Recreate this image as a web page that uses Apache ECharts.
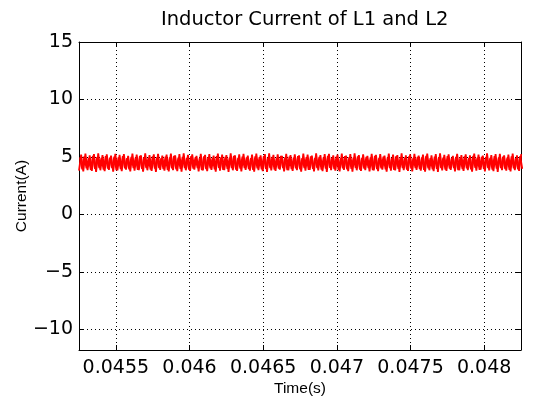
<!DOCTYPE html>
<html>
<head>
<meta charset="utf-8">
<script src="https://cdn.jsdelivr.net/npm/echarts@6/dist/echarts.min.js"></script>
<style>
html,body{margin:0;padding:0;background:#fff;}
#c{width:533px;height:405px;}
</style>
</head>
<body>
<div id="c"></div>
<script>
// ---- data ----
const title = "Inductor Current of L1 and L2";
const xName = "Time(s)";
const yName = "Current(A)";
const xTicks = [0.0455, 0.046, 0.0465, 0.047, 0.0475, 0.048];
const yTicks = [-10, -5, 0, 5, 10, 15];
const xMin = 0.04525, xMax = 0.04825;
const yMin = -11.8, yMax = 15;
// sampling: start time and spacing of the sampled turning points (s)
const tStartL1 = 0.04525;
const tStartL2 = 0.0452573;
const tStep = 0.0000145;
// L1 current turning points (A)
const L1 = [
3.80,5.20,3.74,5.28,3.86,5.14,3.78,5.24,3.70,5.30,3.84,5.16,3.76,5.22,3.88,5.12,3.72,5.26,3.82,5.18,
3.76,5.24,3.90,5.10,3.74,5.28,3.80,5.20,3.86,5.14,3.72,5.30,3.84,5.16,3.78,5.22,3.70,5.26,3.88,5.12,
3.80,5.20,3.74,5.28,3.86,5.14,3.76,5.24,3.72,5.30,3.84,5.18,3.78,5.22,3.90,5.10,3.74,5.26,3.82,5.18,
3.76,5.24,3.88,5.12,3.72,5.28,3.80,5.20,3.86,5.16,3.70,5.30,3.84,5.14,3.78,5.22,3.74,5.26,3.88,5.12,
3.80,5.20,3.72,5.28,3.86,5.14,3.76,5.24,3.70,5.30,3.82,5.18,3.78,5.22,3.90,5.10,3.74,5.26,3.84,5.16,
3.78,5.22,3.86,5.14,3.72,5.28,3.80,5.20,3.88,5.12,3.74,5.30,3.82,5.16,3.76,5.24,3.70,5.26,3.86,5.14,
3.80,5.20,3.74,5.28,3.88,5.12,3.76,5.24,3.72,5.30,3.84,5.16,3.78,5.22,3.86,5.10,3.74,5.26,3.82,5.18,
3.76,5.24,3.90,5.12,3.72,5.28,3.80,5.20,3.84,5.16,3.70,5.30,3.86,5.14,3.78,5.22,3.74,5.26,3.88,5.12,
3.80,5.20,3.72,5.28,3.84,5.14,3.76,5.24,3.70,5.30,3.82,5.18,3.78,5.22,3.88,5.10,3.74,5.26,3.84,5.16,
3.78,5.22,3.86,5.14,3.72,5.28,3.80,5.20,3.90,5.12,3.74,5.30,3.82,5.16,3.76,5.24,3.70,5.26,3.86,5.14,
3.80,5.20,3.74,5.28,3.86,5.14,3.78,5.24
];
// L2 current turning points (A)
const L2 = [
4.96,3.92,5.04,4.00,4.90,3.88,5.08,3.96,4.98,4.04,4.92,3.90,5.06,3.98,4.94,4.02,5.02,3.86,4.96,3.94,
5.06,4.00,4.90,3.92,5.00,4.04,4.94,3.88,5.08,3.96,4.98,4.02,4.92,3.90,5.04,3.98,4.96,4.04,4.90,3.94,
5.02,3.88,4.96,4.00,5.08,3.92,4.94,3.96,5.00,4.04,4.92,3.90,5.06,3.98,4.96,4.02,4.90,3.86,5.04,3.94,
4.98,4.00,4.92,3.92,5.06,4.04,4.96,3.88,5.00,3.96,4.94,4.02,5.08,3.90,4.92,3.98,5.02,4.04,4.96,3.94,
4.90,3.88,5.04,4.00,4.98,3.92,5.06,3.96,4.94,4.04,5.00,3.90,4.92,3.98,5.08,4.02,4.96,3.86,5.02,3.94,
4.94,4.00,5.06,3.92,4.90,4.04,4.98,3.88,5.04,3.96,4.92,4.02,5.00,3.90,4.96,3.98,5.08,4.04,4.94,3.94,
5.02,3.88,4.90,4.00,5.06,3.92,4.98,3.96,4.94,4.04,5.04,3.90,4.92,3.98,5.00,4.02,4.96,3.86,5.08,3.94,
4.92,4.00,5.02,3.92,4.96,4.04,4.90,3.88,5.06,3.96,4.98,4.02,4.94,3.90,5.04,3.98,4.92,4.04,5.00,3.94,
4.96,3.88,5.08,4.00,4.90,3.92,5.02,3.96,4.98,4.04,4.94,3.90,5.06,3.98,4.92,4.02,5.00,3.86,4.96,3.94,
5.04,4.00,4.90,3.92,5.08,4.04,4.94,3.88,5.00,3.96,4.98,4.02,4.92,3.90,5.06,3.98,4.96,4.04,5.02,3.94,
4.94,3.88,5.04,4.00,4.90,3.92,5.06,3.96
];

// ---- chart ----
const FONT = "DejaVu Sans";
const FONT2 = "Liberation Sans";
const toPairs = (arr, t0) => arr.map((v, i) => [t0 + i * tStep, v]);
const chart = echarts.init(document.getElementById('c'), null, {renderer: 'canvas'});
const dotted = {color: '#000', width: 1, type: [1, 3]};
const minusFmt = v => String(v).replace('-', '\u2212');
const baseX = {
  type: 'value', min: xMin, max: xMax,
  axisLine: {show: true, onZero: false, lineStyle: {color: '#000', width: 1}},
};
const baseY = {
  type: 'value', min: yMin, max: yMax,
  axisLine: {show: true, onZero: false, lineStyle: {color: '#000', width: 1}},
};
chart.setOption({
  animation: false,
  backgroundColor: '#fff',
  title: {
    text: title, left: 156, top: 5,
    textStyle: {fontFamily: FONT, fontSize: 19.5, fontWeight: 'normal', color: '#000'}
  },
  grid: {left: 79, right: 12, top: 42, bottom: 55, containLabel: false},
  xAxis: [
    Object.assign({}, baseX, {
      position: 'bottom',
      name: xName, nameLocation: 'middle', nameGap: 31, nameMoveOverlap: false,
      nameTextStyle: {fontFamily: FONT2, fontSize: 15.5, color: '#000'},
      axisTick: {show: true, inside: true, length: 5, customValues: xTicks, lineStyle: {color: '#000'}},
      axisLabel: {show: true, customValues: xTicks, margin: 9, fontFamily: FONT, fontSize: 19, color: '#000',
        formatter: v => String(v)},
      splitLine: {show: true, lineStyle: dotted}
    }),
    Object.assign({}, baseX, {
      position: 'top',
      axisTick: {show: true, inside: true, length: 5, customValues: xTicks, lineStyle: {color: '#000'}},
      axisLabel: {show: false},
      splitLine: {show: false}
    })
  ],
  yAxis: [
    Object.assign({}, baseY, {
      position: 'left',
      name: yName, nameLocation: 'middle', nameGap: 49, nameMoveOverlap: false,
      nameTextStyle: {fontFamily: FONT2, fontSize: 15.5, color: '#000'},
      axisTick: {show: true, inside: true, length: 5, customValues: yTicks, lineStyle: {color: '#000'}},
      axisLabel: {show: true, customValues: yTicks, margin: 6, fontFamily: FONT, fontSize: 19, color: '#000',
        formatter: minusFmt},
      splitLine: {show: true, lineStyle: dotted}
    }),
    Object.assign({}, baseY, {
      position: 'right',
      axisTick: {show: true, inside: true, length: 5, customValues: yTicks, lineStyle: {color: '#000'}},
      axisLabel: {show: false},
      splitLine: {show: false}
    })
  ],
  series: [
    {name: 'L1', type: 'line', data: toPairs(L1, tStartL1), showSymbol: false, symbol: 'none',
      lineStyle: {color: '#ff0000', width: 1.8}, clip: true, silent: true, xAxisIndex: 0, yAxisIndex: 0},
    {name: 'L2', type: 'line', data: toPairs(L2, tStartL2), showSymbol: false, symbol: 'none',
      lineStyle: {color: '#ff0000', width: 1.8}, clip: true, silent: true, xAxisIndex: 0, yAxisIndex: 0}
  ]
});
</script>
</body>
</html>
